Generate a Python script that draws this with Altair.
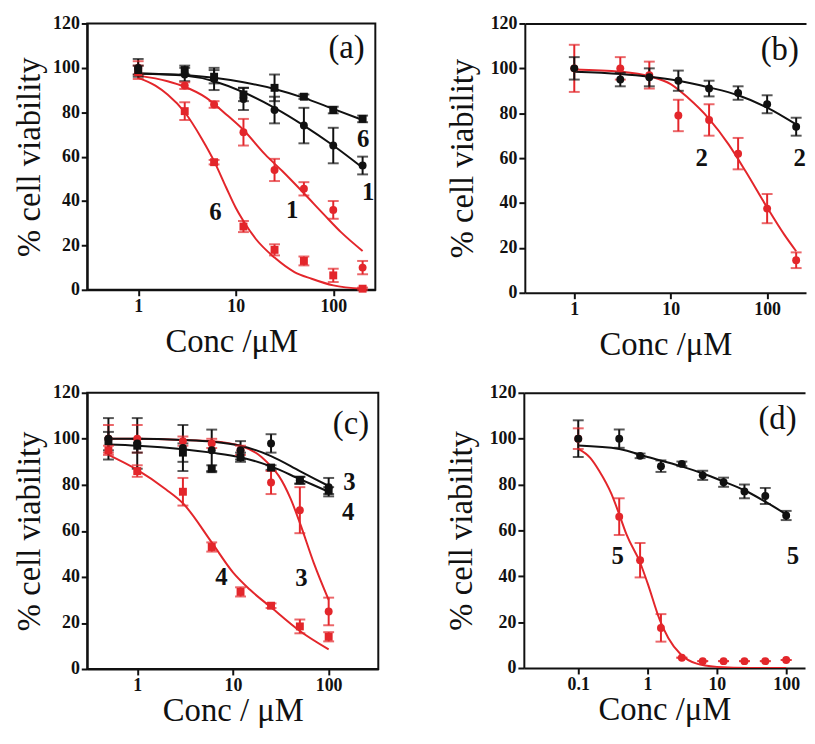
import altair as alt
import pandas as pd

RED = "#e3262b"
BLACK = "#111111"
SERIF = "Liberation Serif"

# ---------------- Panel (a) ----------------
xa = [1, 3, 6, 12, 25, 50, 100, 200]
a_black1 = [100, 97, 95, 86, 81, 74, 65, 56]
a_black1_err = [4, 3, 5, 5, 6, 8, 8, 4]
a_black6 = [99, 99, 96, 88, 91, 87, 81, 77]
a_black6_err = [2, 2, 3, 3, 6, 1, 1.5, 1.5]
a_red1 = [100, 92, 83.5, 71, 54, 45.5, 36, 10]
a_red1_err = [3, 1.5, 1.5, 6, 5, 3, 4, 3]
a_red6 = [98, 80.5, 57.5, 28.5, 18, 13, 6.5, 0.5]
a_red6_err = [3, 4, 1, 2.5, 2.5, 2, 3, 0.5]

a_fit_black_x = [1, 3, 6, 12, 25, 50, 100, 200]
a_fit_black1 = [97.5, 96.5, 94, 89, 82, 74, 65, 55]
a_fit_black6 = [97.5, 96.8, 95.5, 93.5, 90.5, 86.5, 81.5, 76.5]
a_fit_red1_x = [1, 2, 3, 5, 8, 12, 20, 30, 50, 80, 120, 200]
a_fit_red1 = [96.5, 94, 91.5, 86.5, 79, 72, 61, 53.5, 43.5, 34, 26, 17.5]
a_fit_red6_x = [1, 1.5, 2, 3, 4.5, 6, 8, 10, 12, 16, 25, 40, 60, 100, 200]
a_fit_red6 = [95.5, 92, 88, 80, 68, 58, 46, 37, 31, 23, 14.5, 8, 5, 2, 0.5]

a_label_text = ["6", "1", "1", "6"]
a_label_x = [203, 228, 38, 6.2]
a_label_y = [68, 44, 36, 35]

# ---------------- Panel (b) ----------------
xb = [1, 3, 6, 12, 25, 50, 100, 200]
b_black2 = [100, 95, 96, 94.5, 91, 89, 84, 74]
b_black2_err = [5, 3, 4, 4.5, 3.5, 3, 4, 4]
b_red2 = [100, 100, 97, 79, 77, 62, 37.5, 14.5]
b_red2_err = [10.5, 5, 6, 7, 7, 7, 6.5, 3.5]

b_fit_black_x = [1, 3, 6, 12, 25, 50, 100, 200]
b_fit_black2 = [98.5, 97.5, 96.3, 94.5, 91.5, 88, 82.5, 75]
b_fit_red_x = [1, 3, 6, 10, 15, 25, 40, 60, 100, 150, 200]
b_fit_red2 = [99.5, 98.5, 96.5, 93, 87, 77.5, 66, 54, 38, 26, 18.5]

b_label_text = ["2", "2"]
b_label_x = [21, 218]
b_label_y = [60, 60]

# ---------------- Panel (c) ----------------
xc = [0.5, 1, 3, 6, 12, 25, 50, 100]
c_black3 = [100, 98, 96, 95, 95, 98, 82, 79]
c_black3_err = [9, 11, 10, 9, 4, 4, 1.5, 4]
c_black4 = [99, 97, 94, 87, 92, 87.5, 82, 77.5]
c_black4_err = [4, 3, 4, 1.5, 2, 1, 1.5, 1.5]
c_red3 = [100, 100, 99, 98, 95, 81, 69, 25]
c_red3_err = [6, 6, 2, 2, 2, 5, 10, 6]
c_red4 = [95, 86, 77, 53, 33.5, 27.5, 18.5, 14]
c_red4_err = [2, 2.5, 6, 2, 2, 1, 3, 2]

c_fit_black_x = [0.5, 1, 3, 6, 12, 25, 50, 100]
c_fit_black3 = [100, 100, 99.5, 98.8, 97, 92.5, 86, 79.5]
c_fit_black4 = [97.5, 97, 95.5, 94, 92, 88, 82.5, 77]
c_fit_red3_x = [0.5, 1, 3, 6, 12, 20, 25, 30, 40, 50, 70, 100]
c_fit_red3 = [100, 100, 99.5, 99, 97, 92, 88, 84, 74, 63.5, 46, 30]
c_fit_red4_x = [0.5, 1, 2, 3, 6, 10, 15, 25, 50, 100]
c_fit_red4 = [93, 86.5, 78, 72, 55, 42, 34.5, 26.8, 16.5, 8.5]

c_label_text = ["3", "4", "4", "3"]
c_label_x = [165, 160, 7.6, 52]
c_label_y = [81, 68, 40, 39.6]

# ---------------- Panel (d) ----------------
xd = [0.1, 0.39, 0.78, 1.56, 3.125, 6.25, 12.5, 25, 50, 100]
d_black5 = [100, 100, 92.5, 88, 89, 84, 81, 77, 75, 66.5]
d_black5_err = [8, 4, 1, 2.5, 1, 2, 2, 3, 3.5, 2]
d_red5 = [100, 66, 47, 17.5, 4.5, 3, 3, 3, 3, 3.5]
d_red5_err = [4.5, 8, 7.5, 6, 0, 0, 0, 0, 0, 0]

d_fit_black_x = [0.1, 0.39, 1, 3, 6, 12, 25, 50, 100]
d_fit_black5 = [97, 95.5, 92, 88, 85, 81.5, 77.5, 72.5, 67]
d_fit_red_x = [0.1, 0.15, 0.2, 0.3, 0.39, 0.5, 0.78, 1, 1.5, 2, 3, 5, 10, 30, 100]
d_fit_red5 = [95.5, 91.5, 86, 76, 67, 58, 46, 37, 21, 13, 6, 2, 0.5, 0, 0]

d_label_text = ["5", "5"]
d_label_x = [0.37, 125]
d_label_y = [48.6, 49]

Y_TICKS = [0, 20, 40, 60, 80, 100, 120]


def points_df(xs, series_list):
    rows = []
    for name, ys, errs, color, shape in series_list:
        for x, y, e in zip(xs, ys, errs):
            rows.append(dict(x=x, y=y, lo=y - e, hi=y + e, s=name,
                             color=color, shape=shape))
    return pd.DataFrame(rows)


def curves_df(curve_list):
    rows = []
    for name, xs, ys, color in curve_list:
        for i, (x, y) in enumerate(zip(xs, ys)):
            rows.append(dict(x=x, y=y, s=name, color=color, order=i))
    return pd.DataFrame(rows)


def labels_df(texts, xs, ys):
    return pd.DataFrame(dict(x=xs, y=ys, t=texts))


def panel(pts, crv, lbl, letter, letter_x, letter_y, xdomain, xticks,
          width, height, xtitle, ytitle_pad, xtitle_pad, open_right=False):
    xscale = alt.Scale(type="log", domain=xdomain, nice=False)
    yscale = alt.Scale(domain=[0, 120], nice=False)
    xaxis = alt.Axis(values=xticks, format="~g", title=xtitle,
                     titlePadding=xtitle_pad)
    yaxis = alt.Axis(values=Y_TICKS, title="% cell viability",
                     titlePadding=ytitle_pad)
    X = alt.X("x:Q", scale=xscale, axis=xaxis)
    col = alt.Color("color:N", scale=None)

    lines = alt.Chart(crv).mark_line(strokeWidth=2, interpolate="monotone",
                                     clip=True).encode(
        x=X, y=alt.Y("y:Q", scale=yscale, axis=yaxis), color=col,
        detail="s:N", order="order:Q")
    rules = alt.Chart(pts).mark_rule(strokeWidth=2).encode(
        x=X, y=alt.Y("lo:Q", scale=yscale, axis=yaxis), y2="hi:Q", color=col)
    cap_lo = alt.Chart(pts).mark_tick(orient="horizontal", size=11,
                                      thickness=2).encode(
        x=X, y=alt.Y("lo:Q", scale=yscale, axis=yaxis), color=col)
    cap_hi = alt.Chart(pts).mark_tick(orient="horizontal", size=11,
                                      thickness=2).encode(
        x=X, y=alt.Y("hi:Q", scale=yscale, axis=yaxis), color=col)
    dots = alt.Chart(pts).mark_point(filled=True, size=64, opacity=1).encode(
        x=X, y=alt.Y("y:Q", scale=yscale, axis=yaxis), color=col,
        shape=alt.Shape("shape:N", scale=None))
    texts = alt.Chart(lbl).mark_text(font=SERIF, fontSize=25, fontWeight="bold",
                                     color=BLACK, baseline="middle",
                                     align="center").encode(
        x=X, y=alt.Y("y:Q", scale=yscale, axis=yaxis), text="t:N")
    letter_df = pd.DataFrame(dict(x=[letter_x], y=[letter_y], t=[letter]))
    let = alt.Chart(letter_df).mark_text(font=SERIF, fontSize=33,
                                         color=BLACK, baseline="middle",
                                         align="center").encode(
        x=X, y=alt.Y("y:Q", scale=yscale, axis=yaxis), text="t:N")

    body = alt.layer(lines, rules, cap_lo, cap_hi, dots, texts, let)
    if not open_right:
        return body.properties(width=width, height=height)

    # panel runs off the right edge: frame only on top (via a top axis line)
    top_line = alt.Chart(letter_df).mark_point(opacity=0).encode(
        x=alt.X("x:Q", scale=xscale,
                axis=alt.Axis(orient="top", labels=False, ticks=False,
                              title=None, domain=True, grid=False)))
    return alt.layer(body, top_line).resolve_axis(x="independent").properties(
        width=width, height=height,
        view=alt.ViewBackground(stroke="transparent"))


pa = points_df(xa, [
    ("red6", a_red6, a_red6_err, RED, "square"),
    ("red1", a_red1, a_red1_err, RED, "circle"),
    ("black1", a_black1, a_black1_err, BLACK, "circle"),
    ("black6", a_black6, a_black6_err, BLACK, "square"),
])
ca = curves_df([
    ("red6", a_fit_red6_x, a_fit_red6, RED),
    ("red1", a_fit_red1_x, a_fit_red1, RED),
    ("black1", a_fit_black_x, a_fit_black1, BLACK),
    ("black6", a_fit_black_x, a_fit_black6, BLACK),
])
pb = points_df(xb, [
    ("red2", b_red2, b_red2_err, RED, "circle"),
    ("black2", b_black2, b_black2_err, BLACK, "circle"),
])
cb = curves_df([
    ("red2", b_fit_red_x, b_fit_red2, RED),
    ("black2", b_fit_black_x, b_fit_black2, BLACK),
])
pc = points_df(xc, [
    ("red3", c_red3, c_red3_err, RED, "circle"),
    ("red4", c_red4, c_red4_err, RED, "square"),
    ("black3", c_black3, c_black3_err, BLACK, "circle"),
    ("black4", c_black4, c_black4_err, BLACK, "square"),
])
cc = curves_df([
    ("red3", c_fit_red3_x, c_fit_red3, RED),
    ("red4", c_fit_red4_x, c_fit_red4, RED),
    ("black3", c_fit_black_x, c_fit_black3, BLACK),
    ("black4", c_fit_black_x, c_fit_black4, BLACK),
])
pdd = points_df(xd, [
    ("red5", d_red5, d_red5_err, RED, "circle"),
    ("black5", d_black5, d_black5_err, BLACK, "circle"),
])
cd = curves_df([
    ("red5", d_fit_red_x, d_fit_red5, RED),
    ("black5", d_fit_black_x, d_fit_black5, BLACK),
])

chart_a = panel(pa, ca, labels_df(a_label_text, a_label_x, a_label_y),
                "(a)", 137, 109, [0.3, 270], [1, 10, 100], 291, 269,
                "Conc /\u03bcM", 6, 10)
chart_b = panel(pb, cb, labels_df(b_label_text, b_label_x, b_label_y),
                "(b)", 135, 108, [0.307, 253], [1, 10, 100], 284, 272,
                "Conc /\u03bcM", 11, 10, open_right=True)
chart_c = panel(pc, cc, labels_df(c_label_text, c_label_x, c_label_y),
                "(c)", 171, 106.5, [0.3, 330], [1, 10, 100], 294, 279,
                "Conc / \u03bcM", 6, 0)
chart_d = panel(pdd, cd, labels_df(d_label_text, d_label_x, d_label_y),
                "(d)", 75, 108.6, [0.0164, 187], [0.1, 1, 10, 100], 284, 278,
                "Conc /\u03bcM", 11, 0, open_right=True)

chart = alt.vconcat(
    alt.hconcat(chart_a, chart_b, spacing=70),
    alt.hconcat(chart_c, chart_d, spacing=66),
    spacing=21,
).properties(
    padding={"left": 5, "top": 2, "right": 0, "bottom": 0},
    background="white",
).configure_view(
    stroke=BLACK, strokeWidth=2
).configure_axis(
    grid=False,
    domainColor=BLACK, domainWidth=2,
    tickColor=BLACK, tickWidth=2, tickSize=6,
    labelFont=SERIF, labelFontSize=18, labelFontWeight="bold",
    labelColor=BLACK, labelPadding=2,
    titleFont=SERIF, titleFontSize=33, titleFontWeight="normal",
    titleColor=BLACK,
)

chart.save("out.html", embed_options={"renderer": "svg", "actions": False})
